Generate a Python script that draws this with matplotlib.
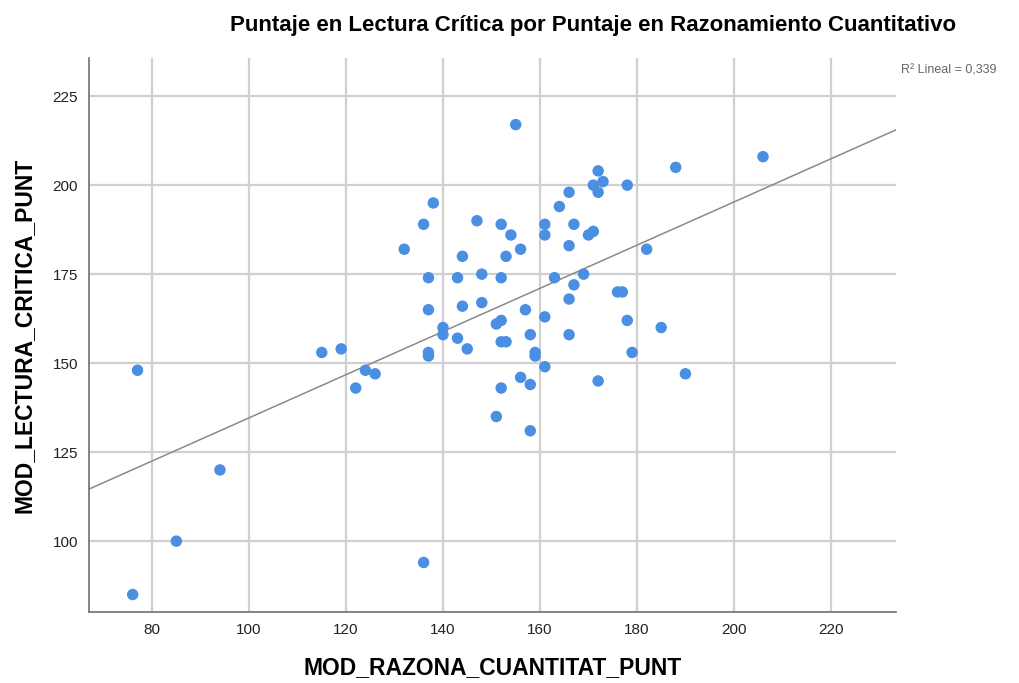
import matplotlib.pyplot as plt
import numpy as np

plt.rcParams['font.family'] = ['Liberation Sans', 'DejaVu Sans']

# datos
razona = [76, 77, 85, 94, 115, 119, 122, 124, 126, 132, 136, 136, 137, 137, 137, 137,
          138, 140, 140, 143, 143, 144, 144, 145, 147, 148, 148, 151, 151, 152, 152, 152,
          152, 152, 153, 153, 154, 155, 156, 156, 157, 158, 158, 158, 159, 159, 161, 161,
          161, 161, 163, 164, 166, 166, 166, 166, 167, 167, 169, 170, 171, 171, 172, 172,
          172, 173, 176, 177, 178, 178, 179, 182, 185, 188, 190, 206]
lectura = [85, 148, 100, 120, 153, 154, 143, 148, 147, 182, 189, 94, 174, 165, 153, 152,
           195, 160, 158, 174, 157, 180, 166, 154, 190, 175, 167, 161, 135, 189, 174, 162,
           156, 143, 180, 156, 186, 217, 182, 146, 165, 158, 144, 131, 153, 152, 189, 186,
           163, 149, 174, 194, 198, 183, 168, 158, 189, 172, 175, 186, 200, 187, 204, 198,
           145, 201, 170, 170, 200, 162, 153, 182, 160, 205, 147, 208]

x_ticks = [80, 100, 120, 140, 160, 180, 200, 220]
y_ticks = [100, 125, 150, 175, 200, 225]

fig = plt.figure(figsize=(10.2, 6.83), dpi=100)
ax = fig.add_axes([0.0873, 0.104, 0.791, 0.811])

ax.set_xlim(67, 233.4)
ax.set_ylim(80.1, 235.7)

ax.set_xticks(x_ticks)
ax.set_yticks(y_ticks)
ax.grid(True, color='#d0d0d0', linewidth=1.6)
ax.set_axisbelow(True)
for s in ['top', 'right']:
    ax.spines[s].set_visible(False)
for s in ['left', 'bottom']:
    ax.spines[s].set_color('#707070')
    ax.spines[s].set_linewidth(1.2)
ax.tick_params(length=0, labelsize=11, pad=8, colors='#222222')

# recta de regresión
b, a = np.polyfit(razona, lectura, 1)
xs = np.array([67, 233.4])
ax.plot(xs, a + b * xs, color='#8a8a8a', linewidth=1.1, zorder=2)

ax.scatter(razona, lectura, s=68, color='#4a8fe2', edgecolors='none', zorder=3)

ax.set_xlabel('MOD_RAZONA_CUANTITAT_PUNT', fontsize=16.5, fontweight='bold', labelpad=14)
ax.set_ylabel('MOD_LECTURA_CRITICA_PUNT', fontsize=16.5, fontweight='bold', labelpad=12)

fig.text(0.581, 0.962, 'Puntaje en Lectura Crítica por Puntaje en Razonamiento Cuantitativo',
         ha='center', va='center', fontsize=16, fontweight='bold')
fig.text(0.883, 0.897, 'R² Lineal = 0,339', fontsize=9, color='#666666', va='center')

fig.savefig('out.png', dpi=100, facecolor='white')
